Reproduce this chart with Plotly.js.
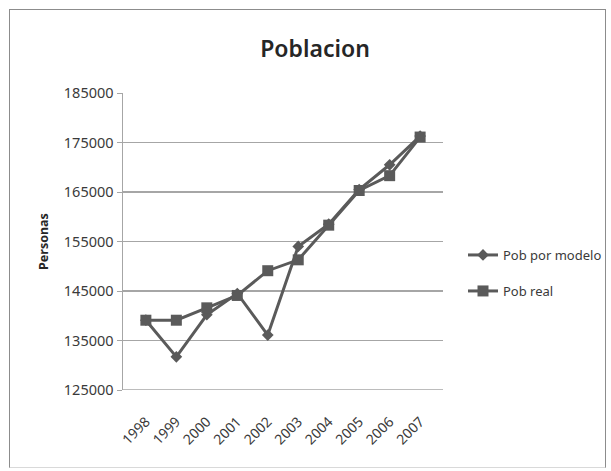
<!DOCTYPE html>
<html>
<head>
<meta charset="utf-8">
<script src="https://cdn.plot.ly/plotly-3.0.1.min.js"></script>
<style>
  html, body { margin: 0; padding: 0; background: #fff; }
  #wrap { position: relative; width: 611px; height: 471px; }
  #chart { position: absolute; left: 0; top: 0; width: 611px; height: 471px; }
  #frame { position: absolute; left: 9px; top: 9px; width: 595px; height: 457px;
           border: 1.5px solid #8c8c8c; border-bottom-color: #d9d9d9; pointer-events: none; }
</style>
</head>
<body>
<div id="wrap">
  <div id="chart"></div>
  <div id="frame"></div>
</div>
<script>
const years = ['1998','1999','2000','2001','2002','2003','2004','2005','2006','2007'];
const pobModelo = [139100, 131700, 140200, 144500, 136100, 154000, 158500, 165500, 170500, 176300];
const pobReal   = [139100, 139100, 141600, 144100, 149100, 151300, 158300, 165300, 168300, 176100];
const yTicks = [125000, 135000, 145000, 155000, 165000, 175000, 185000];

const lineColor = '#5a5a5a';
const fontFam = 'Noto Sans, Open Sans, Liberation Sans, sans-serif';

const traces = [
  {
    x: years, y: pobModelo, name: 'Pob por modelo', type: 'scatter', mode: 'lines+markers',
    line: {color: lineColor, width: 3},
    marker: {symbol: 'diamond', size: 9, color: lineColor},
    legend: 'legend'
  },
  {
    x: years, y: pobReal, name: 'Pob real', type: 'scatter', mode: 'lines+markers',
    line: {color: lineColor, width: 3},
    marker: {symbol: 'square', size: 11, color: lineColor},
    legend: 'legend2'
  }
];

const W = 611, H = 471;
const plotLeft = 123, plotW = 320, plotTop = 93, plotH = 297;

const legendFont = {family: fontFam, size: 13, color: '#3a3a3a'};

const layout = {
  width: W, height: H,
  margin: {l: plotLeft, r: W - plotLeft - plotW, t: plotTop, b: H - plotTop - plotH},
  paper_bgcolor: '#ffffff', plot_bgcolor: '#ffffff',
  showlegend: true,
  title: {
    text: 'Poblacion',
    font: {family: fontFam, size: 23, color: '#262626', weight: 600},
    x: 315 / W, xanchor: 'center', y: 1 - 49 / H, yanchor: 'middle'
  },
  xaxis: {
    type: 'category',
    tickangle: -45,
    showgrid: false,
    showline: false,
    zeroline: false,
    ticks: 'outside', ticklen: 17, tickcolor: 'rgba(0,0,0,0)',
    tickfont: {family: fontFam, size: 14, color: '#3a3a3a'},
    fixedrange: true
  },
  yaxis: {
    range: [125000, 185000],
    tickvals: yTicks,
    ticktext: yTicks.map(String),
    showgrid: true, gridcolor: '#a6a6a6', gridwidth: 1.5,
    showline: true, linecolor: '#a6a6a6', linewidth: 1.5,
    zeroline: false,
    ticks: 'outside', ticklen: 5, tickcolor: '#a6a6a6',
    tickfont: {family: fontFam, size: 14.5, color: '#3a3a3a'},
    title: {text: 'Personas', font: {family: fontFam, size: 12.5, color: '#262626', weight: 'bold'}, standoff: 12},
    fixedrange: true
  },
  legend: {
    xref: 'container', yref: 'container',
    x: 463 / W, xanchor: 'left',
    y: 1 - 255 / H, yanchor: 'middle',
    font: legendFont, itemwidth: 30,
    bgcolor: 'rgba(0,0,0,0)'
  },
  legend2: {
    xref: 'container', yref: 'container',
    x: 463 / W, xanchor: 'left',
    y: 1 - 291 / H, yanchor: 'middle',
    font: legendFont, itemwidth: 30,
    bgcolor: 'rgba(0,0,0,0)'
  },
  shapes: [
    {type: 'line', xref: 'paper', yref: 'y', x0: 0, x1: 1, y0: 125000, y1: 125000,
     line: {color: '#a6a6a6', width: 1.5}}
  ]
};

Plotly.newPlot('chart', traces, layout, {displayModeBar: false, staticPlot: true});
</script>
</body>
</html>
